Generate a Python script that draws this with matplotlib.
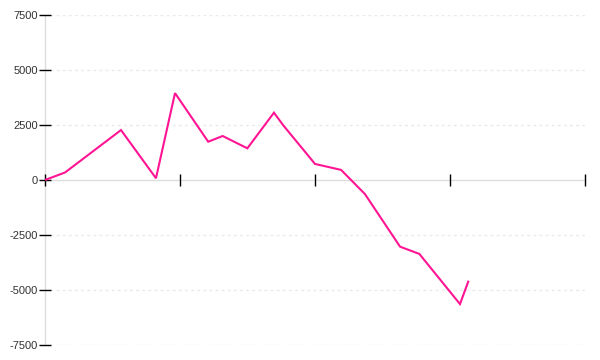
import matplotlib
matplotlib.use("Agg")
import matplotlib.pyplot as plt

plt.rcParams['font.family'] = ['Liberation Sans', 'DejaVu Sans']
plt.rcParams['axes.unicode_minus'] = False

x_vals = [0, 1.48, 5.63, 8.22, 9.63, 12.09, 13.16, 14.99, 16.96, 17.63, 20.0, 21.93, 23.7, 26.3, 27.73, 30.74, 31.35]
y_vals = [0, 340, 2270, 80, 3950, 1740, 2000, 1440, 3060, 2500, 730, 460, -640, -3030, -3360, -5640, -4620]
y_ticks = [-7500, -5000, -2500, 0, 2500, 5000, 7500]
x_ticks = [0, 10, 20, 30, 40]

fig = plt.figure(figsize=(6, 3.6), dpi=100)
ax = fig.add_axes([45/600, 15/360, 540/600, 330/360])

ax.plot(x_vals, y_vals, color='#FF1493', lw=1.5, solid_joinstyle='miter', zorder=3)

ax.set_xlim(0, 40)
ax.set_ylim(-7500, 7500)
ax.set_yticks(y_ticks)
ax.set_xticks(x_ticks)
ax.set_xticklabels([])

for yt in y_ticks:
    if yt != 0:
        ax.axhline(yt, xmin=5/540, xmax=1, color='#ebebeb', lw=1, ls=(0, (2.2, 2.2)), zorder=0.5)

for s in ['top', 'right']:
    ax.spines[s].set_visible(False)
ax.spines['left'].set_color('#dddddd')
ax.spines['left'].set_linewidth(1)
ax.spines['left'].set_zorder(0.8)
ax.spines['bottom'].set_position(('data', 0))
ax.spines['bottom'].set_color('#dddddd')
ax.spines['bottom'].set_linewidth(1)
ax.spines['bottom'].set_zorder(0.8)

ax.tick_params(axis='y', direction='inout', length=8, width=1, colors='black',
               labelsize=8, labelcolor='#333333', pad=1)
ax.tick_params(axis='x', direction='inout', length=9, width=1, colors='black')

fig.savefig('out.png', dpi=100)
